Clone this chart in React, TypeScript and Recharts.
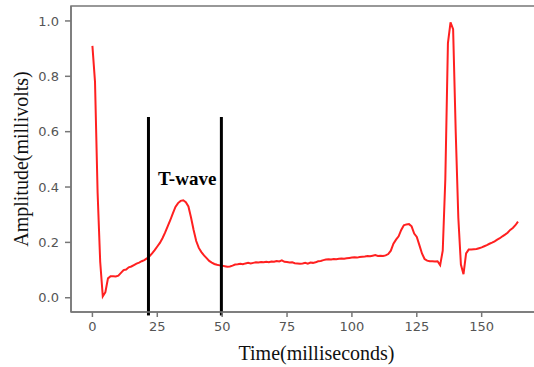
import React from 'react';
import {
  LineChart,
  Line,
  XAxis,
  YAxis,
  ReferenceLine,
  ReferenceArea,
  ReferenceDot,
} from 'recharts';

// ECG trace, time in ms, amplitude in mV
const amplitude = [
  0.91, 0.78, 0.38, 0.13, 0.005, 0.02, 0.07, 0.078, 0.078, 0.077,
  0.08, 0.09, 0.1, 0.102, 0.11, 0.113, 0.118, 0.123, 0.127, 0.132,
  0.136, 0.142, 0.15, 0.16, 0.172, 0.185, 0.198, 0.215, 0.235, 0.258,
  0.28, 0.305, 0.328, 0.342, 0.35, 0.352, 0.345, 0.33, 0.29, 0.245,
  0.205, 0.18, 0.165, 0.153, 0.143, 0.133, 0.127, 0.122, 0.119, 0.117,
  0.116, 0.114, 0.112, 0.113, 0.116, 0.12, 0.121, 0.123, 0.121, 0.124,
  0.126, 0.124, 0.126, 0.128, 0.127, 0.129, 0.128, 0.13, 0.128, 0.131,
  0.13, 0.133, 0.131, 0.135, 0.13, 0.129, 0.127, 0.128, 0.125, 0.124,
  0.123, 0.124, 0.126, 0.123, 0.127, 0.126, 0.128, 0.132, 0.133, 0.136,
  0.138, 0.139, 0.138, 0.14, 0.139, 0.141, 0.142, 0.141, 0.143, 0.144,
  0.145, 0.146, 0.145, 0.147, 0.148, 0.149, 0.151, 0.15, 0.152, 0.154,
  0.151, 0.152, 0.151, 0.153, 0.158, 0.17, 0.195, 0.21, 0.222, 0.245,
  0.262, 0.265, 0.266, 0.258, 0.232, 0.22, 0.19, 0.16, 0.14, 0.134,
  0.132, 0.132, 0.131, 0.132, 0.118, 0.17, 0.43, 0.92, 0.995, 0.97,
  0.6, 0.29, 0.12, 0.085, 0.16, 0.174, 0.174, 0.175, 0.176, 0.179,
  0.182, 0.186, 0.19, 0.195, 0.199, 0.204, 0.21, 0.215, 0.222, 0.228,
  0.235, 0.245, 0.252, 0.262, 0.275,
];
const startMs = 0;

const xTicks = [0, 25, 50, 75, 100, 125, 150];
const yTicks = [0, 0.2, 0.4, 0.6, 0.8, 1.0];
const tWaveBounds = [21.6, 49.7];

const data = amplitude.map((v, i) => ({ t: startMs + i, v }));

const X_DOMAIN = [-8.25, 173.25];
const Y_DOMAIN = [-0.0515, 1.054];
const SPINE = '#777777';
const TICK_TEXT = { fill: '#555555', fontSize: 13, fontFamily: 'DejaVu Sans' };
const SERIF = '"Liberation Serif", "Times New Roman", serif';

export default function App() {
  return (
    <div
      style={{
        position: 'fixed',
        left: 0,
        top: 0,
        width: 534,
        height: 367,
        overflow: 'hidden',
        background: '#fff',
      }}
    >
      <LineChart
        width={560}
        height={367}
        data={data}
        margin={{ top: 6, right: 18, left: 0, bottom: 0 }}
      >
        <XAxis
          type="number"
          dataKey="t"
          domain={X_DOMAIN}
          ticks={xTicks}
          allowDataOverflow
          height={55}
          stroke={SPINE}
          strokeWidth={1.5}
          tickSize={5}
          tickMargin={5}
          tick={TICK_TEXT}
          label={{
            value: 'Time(milliseconds)',
            position: 'insideBottom',
            offset: 7,
            dx: 10,
            style: { fontFamily: SERIF, fontSize: 20, fill: '#111' },
          }}
        />
        <YAxis
          type="number"
          domain={Y_DOMAIN}
          ticks={yTicks}
          allowDataOverflow
          width={71}
          stroke={SPINE}
          strokeWidth={1.5}
          tickSize={6}
          tickMargin={6}
          tick={TICK_TEXT}
          tickFormatter={(v: number) => v.toFixed(1)}
          label={{
            value: 'Amplitude(millivolts)',
            position: 'center',
            angle: -90,
            dx: -15,
            style: { fontFamily: SERIF, fontSize: 20, fill: '#111', textAnchor: 'middle' },
          }}
        />
        <ReferenceArea
          x1={X_DOMAIN[0]}
          x2={X_DOMAIN[1]}
          y1={Y_DOMAIN[0]}
          y2={Y_DOMAIN[1]}
          fill="none"
          fillOpacity={0}
          stroke={SPINE}
          strokeWidth={1.5}
          ifOverflow="visible"
        />
        <Line
          type="linear"
          dataKey="v"
          stroke="#ff2020"
          strokeWidth={2}
          dot={false}
          isAnimationActive={false}
        />
        {tWaveBounds.map((x) => (
          <ReferenceLine
            key={x}
            segment={[
              { x, y: -0.064 },
              { x, y: 0.653 },
            ]}
            stroke="#000"
            strokeWidth={3}
            ifOverflow="visible"
          />
        ))}
        <ReferenceDot
          x={36.5}
          y={0.43}
          r={0}
          fill="none"
          stroke="none"
          ifOverflow="visible"
          label={{
            value: 'T-wave',
            position: 'center',
            style: { fontFamily: SERIF, fontSize: 19, fontWeight: 'bold', fill: '#000' },
          }}
        />
      </LineChart>
    </div>
  );
}
